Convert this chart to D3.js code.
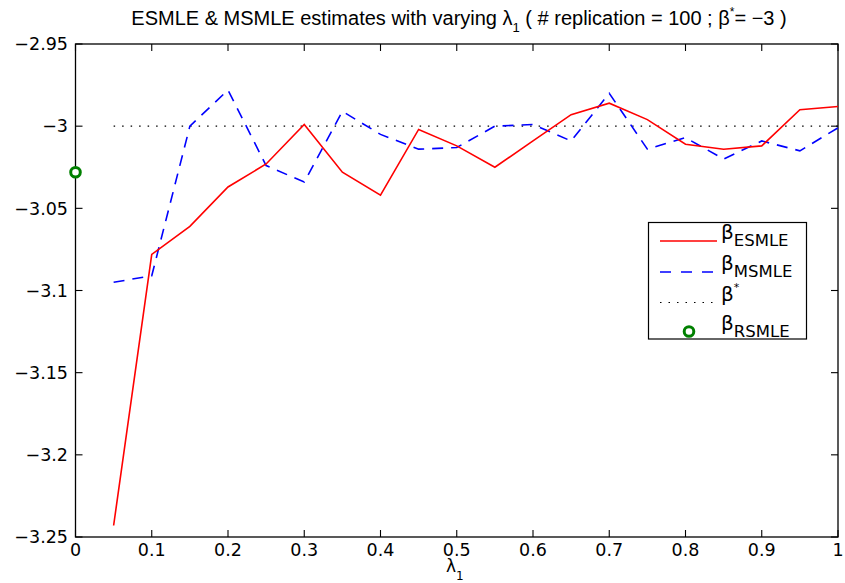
<!DOCTYPE html>
<html>
<head>
<meta charset="utf-8">
<script src="https://cdn.jsdelivr.net/npm/d3@7/dist/d3.min.js"></script>
<style>
  html, body { margin: 0; padding: 0; background: #fff; }
  svg { display: block; }
  text { font-family: "DejaVu Sans", sans-serif; fill: #000; }
  .title { font-family: "Liberation Sans", Arial, sans-serif; }
</style>
</head>
<body>
<svg id="chart" width="845" height="583"></svg>
<script>
// λ1 values at which both estimators were evaluated
const lambda = [0.05, 0.10, 0.15, 0.20, 0.25, 0.30, 0.35, 0.40, 0.45, 0.50,
                0.55, 0.60, 0.65, 0.70, 0.75, 0.80, 0.85, 0.90, 0.95, 1.00];

// mean estimates over 100 replications
const esmle = [-3.243, -3.078, -3.061, -3.037, -3.023, -2.999, -3.028, -3.042, -3.002, -3.012,
               -3.025, -3.009, -2.993, -2.986, -2.996, -3.011, -3.014, -3.012, -2.990, -2.988];
const msmle = [-3.095, -3.091, -3.000, -2.978, -3.024, -3.034, -2.991, -3.005, -3.014, -3.013,
               -3.000, -2.999, -3.009, -2.980, -3.014, -3.007, -3.020, -3.009, -3.015, -3.001];

// true parameter and the RSMLE estimate (λ1 = 0)
const betaTrue = -3;
const rsmle = { lambda: 0, value: -3.028 };

const xTicks = [0, 0.1, 0.2, 0.3, 0.4, 0.5, 0.6, 0.7, 0.8, 0.9, 1];
const yTicks = [-2.95, -3, -3.05, -3.1, -3.15, -3.2, -3.25];

const svg = d3.select("#chart");
const plotL = 75.5, plotR = 838, plotT = 44, plotB = 537;

const x = d3.scaleLinear().domain([0, 1]).range([plotL, plotR]);
const y = d3.scaleLinear().domain([-3.25, -2.95]).range([plotB, plotT]);

const fmtX = d => d === 0 ? "0" : d === 1 ? "1" : d3.format(".1f")(d);
const fmtY = d => {
  const s = d3.format(".2f")(d).replace(/0+$/, "").replace(/\.$/, "");
  return s.replace("-", "\u2212");
};

// plot frame
svg.append("rect")
  .attr("x", plotL).attr("y", plotT)
  .attr("width", plotR - plotL).attr("height", plotB - plotT)
  .attr("fill", "none").attr("stroke", "#000").attr("stroke-width", 1.3);

// inward ticks on all four sides
const tickLen = 7;
const g = svg.append("g").attr("stroke", "#000").attr("stroke-width", 1.1);
xTicks.forEach(t => {
  g.append("line").attr("x1", x(t)).attr("x2", x(t)).attr("y1", plotB).attr("y2", plotB - tickLen);
  g.append("line").attr("x1", x(t)).attr("x2", x(t)).attr("y1", plotT).attr("y2", plotT + tickLen);
});
yTicks.forEach(t => {
  g.append("line").attr("x1", plotL).attr("x2", plotL + tickLen).attr("y1", y(t)).attr("y2", y(t));
  g.append("line").attr("x1", plotR).attr("x2", plotR - tickLen).attr("y1", y(t)).attr("y2", y(t));
});

// tick labels
svg.append("g").selectAll("text").data(xTicks).join("text")
  .attr("x", d => x(d)).attr("y", 556)
  .attr("text-anchor", "middle").attr("font-size", 17.5)
  .text(fmtX);
svg.append("g").selectAll("text").data(yTicks).join("text")
  .attr("x", 68).attr("y", d => y(d)).attr("dy", "0.36em")
  .attr("text-anchor", "end").attr("font-size", 17.5)
  .text(fmtY);

// x axis label λ1
const xl = svg.append("text").attr("x", 446).attr("y", 572).attr("font-size", 17);
xl.append("tspan").text("λ");
xl.append("tspan").attr("font-size", 12).attr("dy", 8).text("1");

// title
const title = svg.append("text").attr("class", "title").attr("x", 459).attr("y", 25)
  .attr("text-anchor", "middle").attr("font-size", 20);
title.append("tspan").text("ESMLE & MSMLE estimates with varying λ");
title.append("tspan").attr("font-size", 13).attr("dy", 7).text("1");
title.append("tspan").attr("dy", -7).text(" ( # replication = 100 ;  β");
title.append("tspan").attr("font-size", 12).attr("dy", -9).text("*");
title.append("tspan").attr("dy", 9).text("= \u22123 )");

// true value reference line
svg.append("line")
  .attr("x1", x(lambda[0])).attr("x2", x(lambda[lambda.length - 1]))
  .attr("y1", y(betaTrue)).attr("y2", y(betaTrue))
  .attr("stroke", "#000").attr("stroke-width", 1.2)
  .attr("stroke-dasharray", "1.5,7");

const line = d3.line().x((d, i) => x(lambda[i])).y(d => y(d));

svg.append("path").datum(msmle)
  .attr("d", line).attr("fill", "none")
  .attr("stroke", "#0000ff").attr("stroke-width", 1.6)
  .attr("stroke-dasharray", "11,8");

svg.append("path").datum(esmle)
  .attr("d", line).attr("fill", "none")
  .attr("stroke", "#ff0000").attr("stroke-width", 1.6);

svg.append("circle")
  .attr("cx", x(rsmle.lambda)).attr("cy", y(rsmle.value)).attr("r", 4.8)
  .attr("fill", "#fff").attr("stroke", "#008000").attr("stroke-width", 3);

// legend
const lg = svg.append("g");
lg.append("rect").attr("x", 648.5).attr("y", 222.5).attr("width", 158).attr("height", 116.5)
  .attr("fill", "#fff").attr("stroke", "#000").attr("stroke-width", 1.2);

const items = [
  { sub: "ESMLE", sup: null, type: "solid" },
  { sub: "MSMLE", sup: null, type: "dash" },
  { sub: null, sup: "*", type: "dot" },
  { sub: "RSMLE", sup: null, type: "circle" }
];
const rowY = [241, 272, 302.5, 331.5];
items.forEach((it, i) => {
  const yy = rowY[i];
  if (it.type === "circle") {
    lg.append("circle").attr("cx", 689).attr("cy", yy).attr("r", 4.8)
      .attr("fill", "#fff").attr("stroke", "#008000").attr("stroke-width", 3);
  } else {
    const l = lg.append("line").attr("x1", 660).attr("x2", 717).attr("y1", yy).attr("y2", yy)
      .attr("stroke-width", it.type === "dot" ? 1.2 : 1.6);
    if (it.type === "solid") l.attr("stroke", "#ff0000");
    if (it.type === "dash") l.attr("stroke", "#0000ff").attr("stroke-dasharray", "11,10");
    if (it.type === "dot") l.attr("stroke", "#000").attr("stroke-dasharray", "1.5,7");
  }
  const t = lg.append("text").attr("x", 721).attr("y", yy - 2).attr("font-size", 20);
  t.append("tspan").text("β");
  if (it.sub) t.append("tspan").attr("font-size", 16.5).attr("dy", 7).text(it.sub);
  if (it.sup) t.append("tspan").attr("font-size", 11).attr("dy", -10).text(it.sup);
});
</script>
</body>
</html>
